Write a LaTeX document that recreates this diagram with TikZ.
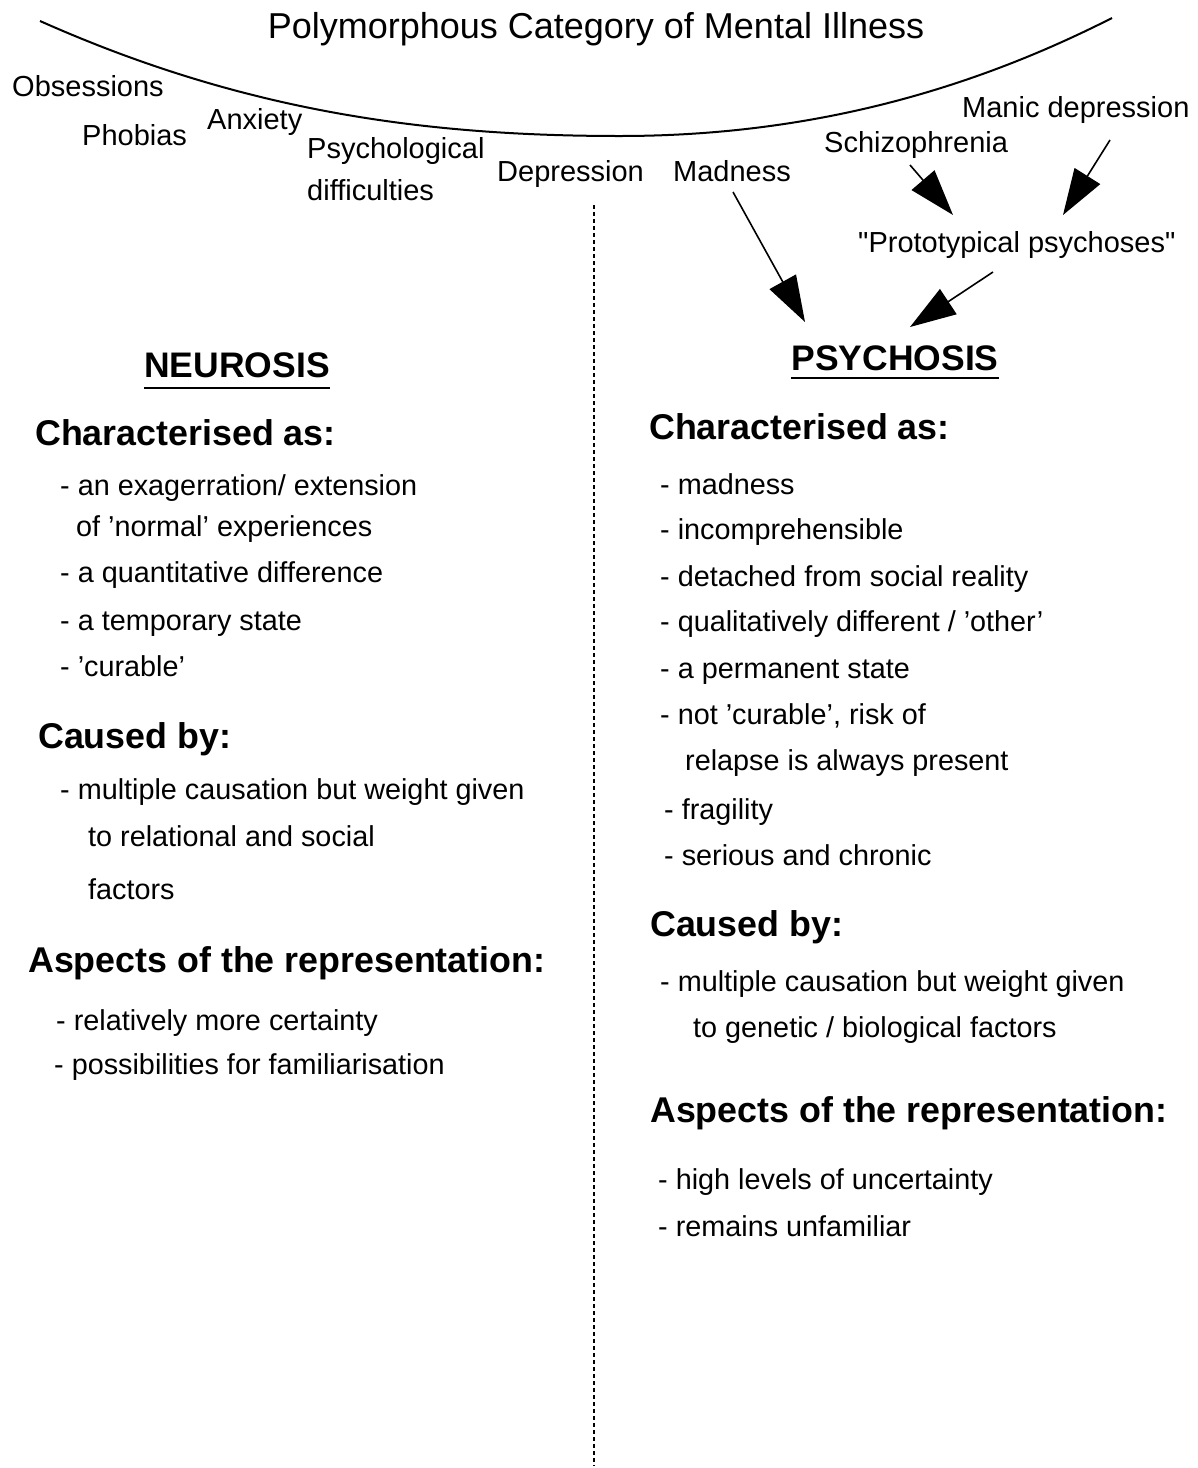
\documentclass[tikz,border=0pt]{standalone}
\usepackage{fontspec}
\setmainfont{Liberation Sans}
\newfontfamily\rawsans{Liberation Sans}
\usetikzlibrary{arrows.meta}
\tikzset{
  ttl/.style={anchor=base, inner sep=0pt, font=\fontsize{36}{40}\selectfont},
  lbl/.style={anchor=base west, inner sep=0pt, font=\fontsize{29}{32}\selectfont},
  head/.style={anchor=base west, inner sep=0pt, font=\fontsize{35.8}{40}\selectfont\bfseries},
  big/.style={anchor=base, inner sep=0pt, font=\fontsize{35.5}{40}\selectfont\bfseries},
  body/.style={anchor=base west, inner sep=0pt, font=\fontsize{28.8}{32}\selectfont},
  arr/.style={line width=1.6pt, -{Triangle[length=46pt,width=30pt]}},
  uline/.style={line width=2pt},
  divider/.style={line width=2pt, dash pattern=on 4pt off 3pt}
}
\begin{document}
\begin{tikzpicture}[x=1pt,y=-1pt]
\fill[white] (0,0) rectangle (1198,1468);
\useasboundingbox (0,0) rectangle (1198,1468);

% title and curve
\node[ttl] (title) at (596,38) {Polymorphous Category of Mental Illness};
\coordinate (cL) at (40,21);
\coordinate (cM) at (620,136);
\coordinate (cR) at (1112,18);
\draw[line width=2pt] (cL) .. controls (240,110) and (420,136) .. (cM)
  .. controls (820,136) and (980,85) .. (cR);

% category labels
\node[lbl] (obs) at (12,96) {Obsessions};
\node[lbl] (pho) at (82,145) {Phobias};
\node[lbl] (anx) at (207,129) {Anxiety};
\node[lbl] (psy1) at (307,158) {Psychological};
\node[lbl] (psy2) at (307,200) {difficulties};
\node[lbl] (dep) at (497,181) {Depression};
\node[lbl] (mad) at (673,181) {Madness};
\node[lbl] (sch) at (824,152) {Schizophrenia};
\node[lbl] (man) at (962,117) {Manic depression};
\node[lbl] (proto) at (858,252) {{\rawsans"}Prototypical psychoses{\rawsans"}};

% arrows
\coordinate (madS) at (733,192);
\coordinate (madT) at (805,322);
\coordinate (schS) at (910,165);
\coordinate (schT) at (953,215);
\coordinate (manS) at (1110,140);
\coordinate (manT) at (1063,215);
\coordinate (proS) at (993,272);
\coordinate (proT) at (910,327);
\draw[arr] (madS) -- (madT);
\draw[arr] (schS) -- (schT);
\draw[arr] (manS) -- (manT);
\draw[arr] (proS) -- (proT);

% divider
\coordinate (divT) at (594,205);
\coordinate (divB) at (594,1466);
\draw[divider] (divT) -- (divB);

% left column
\node[big] (neu) at (237,377) {NEUROSIS};
\draw[uline] (neu.base west) ++(0,11) -- ([yshift=-11pt]neu.base east);
\node[head] (lch) at (35,445) {Characterised as:};
\node[body] (l1) at (60,495) {- an exagerration/ extension};
\node[body] (l2) at (76,536) {of 'normal' experiences};
\node[body] (l3) at (60,582) {- a quantitative difference};
\node[body] (l4) at (60,630) {- a temporary state};
\node[body] (l5) at (60,676) {- 'curable'};
\node[head] (lcb) at (38,748) {Caused by:};
\node[body] (l6) at (60,799) {- multiple causation but weight given};
\node[body] (l7) at (88,846) {to relational and social};
\node[body] (l8) at (88,899) {factors};
\node[head] (lasp) at (28,972) {Aspects of the representation:};
\node[body] (l9) at (56,1030) {- relatively more certainty};
\node[body] (l10) at (54,1074) {- possibilities for familiarisation};

% right column
\node[big] (psy) at (895,370) {PSYCHOSIS};
\draw[uline] (psy.base west) ++(0,8) -- ([yshift=-8pt]psy.base east);
\node[head] (rch) at (649,439) {Characterised as:};
\node[body] (r1) at (660,494) {- madness};
\node[body] (r2) at (660,539) {- incomprehensible};
\node[body] (r3) at (660,586) {- detached from social reality};
\node[body] (r4) at (660,631) {- qualitatively different / 'other'};
\node[body] (r5) at (660,678) {- a permanent state};
\node[body] (r6) at (660,724) {- not 'curable', risk of};
\node[body] (r7) at (685,770) {relapse is always present};
\node[body] (r8) at (664,819) {- fragility};
\node[body] (r9) at (664,865) {- serious and chronic};
\node[head] (rcb) at (650,936) {Caused by:};
\node[body] (r10) at (660,991) {- multiple causation but weight given};
\node[body] (r11) at (693,1037) {to genetic / biological factors};
\node[head] (rasp) at (650,1122) {Aspects of the representation:};
\node[body] (r12) at (658,1189) {- high levels of uncertainty};
\node[body] (r13) at (658,1236) {- remains unfamiliar};
\end{tikzpicture}
\end{document}
